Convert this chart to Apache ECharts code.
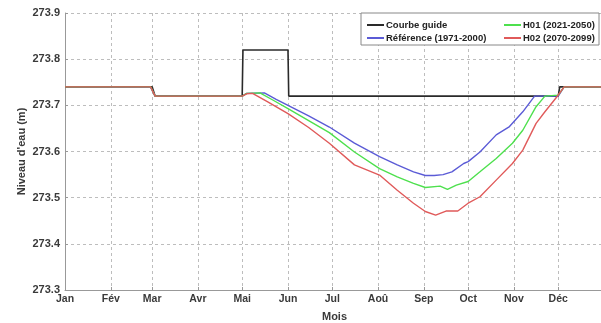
<!DOCTYPE html>
<html><head><meta charset="utf-8">
<script src="https://cdn.jsdelivr.net/npm/echarts@6/dist/echarts.min.js"></script>
<style>html,body{margin:0;padding:0;background:#fff}#c{width:601px;height:323px}</style>
</head><body><div id="c"></div>
<script>
const monthLabels = ['Jan','Fév','Mar','Avr','Mai','Jun','Jul','Aoû','Sep','Oct','Nov','Déc'];
const monthStarts = [0,31,59,90,120,151,181,212,243,273,304,334];
const yTicks = [273.3,273.4,273.5,273.6,273.7,273.8,273.9];

const guideDays = [0,59,61,120,120.5,151,151.5,334,335,365];
const guideVals = [273.74,273.74,273.72,273.72,273.82,273.82,273.72,273.72,273.74,273.74];

const refDays = [0,58,61,120,123,135,143,151,165,179,196,213,225,236,244,250,256,262,270,273,281,292,301,310,318,334,338,365];
const refVals = [273.74,273.739,273.72,273.72,273.726,273.727,273.713,273.700,273.677,273.653,273.618,273.589,273.571,273.556,273.548,273.548,273.550,273.556,273.574,273.578,273.599,273.636,273.654,273.686,273.72,273.72,273.74,273.74];

const h01Days = [0,58,61,120,123,132,141,151,165,179,196,213,225,236,244,254,259,265,273,281,292,303,310,319,325,334,338,365];
const h01Vals = [273.74,273.74,273.72,273.72,273.726,273.727,273.711,273.693,273.667,273.641,273.599,273.563,273.545,273.531,273.522,273.525,273.518,273.527,273.535,273.556,273.585,273.618,273.646,273.697,273.72,273.722,273.74,273.74];

const h02Days = [0,58,61,120,123,127,137,151,165,179,196,213,225,236,244,251,258,266,273,281,292,303,310,319,325,333,338,365];
const h02Vals = [273.74,273.74,273.72,273.72,273.725,273.726,273.708,273.682,273.652,273.618,273.571,273.549,273.516,273.488,273.470,273.462,273.471,273.471,273.488,273.502,273.538,273.574,273.603,273.661,273.686,273.718,273.74,273.74];

const zip = (d, v) => d.map((x, i) => [x, v[i]]);

const chart = echarts.init(document.getElementById('c'), null, {renderer: 'canvas'});
const lblFont = {fontFamily: 'Liberation Sans, Arial, sans-serif', fontWeight: 'bold', fontSize: 10.5, color: '#3a3a3a'};
function mk(name, d, v, color, w) {
  return {name, type: 'line', data: zip(d, v), showSymbol: false, symbol: 'none',
    lineStyle: {color, width: w}, itemStyle: {color}, animation: false, silent: true};
}
chart.setOption({
  animation: false,
  grid: {left: 65, right: -3, top: 13, bottom: 33, containLabel: false, outerBoundsMode: 'none'},
  xAxis: {type: 'value', min: 0, max: 365,
    name: 'Mois', nameLocation: 'middle', nameGap: 21, nameMoveOverlap: false,
    nameTextStyle: Object.assign({}, lblFont, {fontSize: 11}),
    axisLine: {lineStyle: {color: '#999', width: 1}},
    axisTick: {show: true, inside: true, length: 3, customValues: monthStarts, lineStyle: {color: '#999'}},
    axisLabel: Object.assign({}, lblFont, {customValues: monthStarts, margin: 4,
      formatter: v => monthLabels[monthStarts.indexOf(v)]}),
    splitLine: {show: true, lineStyle: {color: '#bdbdbd', type: [3, 3]}}
  },
  yAxis: {type: 'value', min: 273.3, max: 273.9, interval: 0.1,
    name: "Niveau d'eau (m)", nameLocation: 'middle', nameGap: 38, nameMoveOverlap: false,
    nameTextStyle: Object.assign({}, lblFont, {fontSize: 11}),
    axisLine: {show: true, lineStyle: {color: '#999', width: 1}},
    axisTick: {show: true, inside: true, length: 3, lineStyle: {color: '#999'}},
    axisLabel: Object.assign({}, lblFont, {fontSize: 11, margin: 5, formatter: v => v.toFixed(1)}),
    splitLine: {show: true, lineStyle: {color: '#bdbdbd', type: [3, 3]}}
  },
  graphic: [{type: 'rect', shape: {x: 361, y: 13, width: 238, height: 32},
    style: {fill: '#fff', stroke: '#888', lineWidth: 1}, z: 50}],
  legend: [
    {left: 362, top: 15, orient: 'vertical', itemGap: 3, itemWidth: 17, itemHeight: 2, icon: 'rect',
      data: ['Courbe guide', 'Référence (1971-2000)'], z: 60,
      textStyle: Object.assign({}, lblFont, {fontSize: 9.5, color: '#222', padding: [0,0,0,-3]})},
    {left: 499, top: 15, orient: 'vertical', itemGap: 3, itemWidth: 17, itemHeight: 2, icon: 'rect',
      data: ['H01 (2021-2050)', 'H02 (2070-2099)'], z: 60,
      textStyle: Object.assign({}, lblFont, {fontSize: 9.5, color: '#222', padding: [0,0,0,-3]})}
  ],
  series: [
    mk('Courbe guide', guideDays, guideVals, '#2a2a2a', 1.6),
    mk('Référence (1971-2000)', refDays, refVals, '#5b5bd6', 1.4),
    mk('H01 (2021-2050)', h01Days, h01Vals, '#4ee04e', 1.4),
    mk('H02 (2070-2099)', h02Days, h02Vals, '#e05a5a', 1.4)
  ]
});
</script></body></html>
